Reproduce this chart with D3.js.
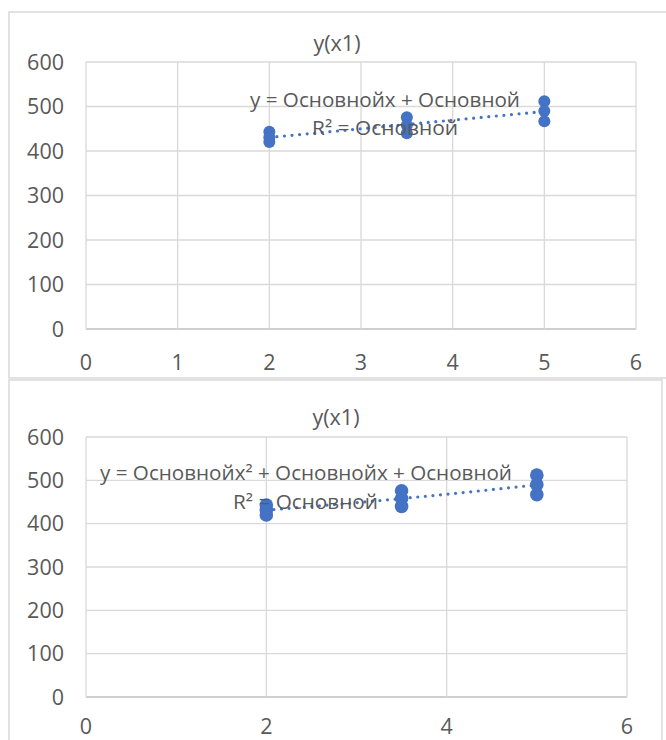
<!DOCTYPE html>
<html lang="ru">
    <head>
        <meta charset="utf-8">
        <title>y(x1)</title>
        <script type="text/javascript" src="https://d3js.org/d3.v7.min.js"></script>
        <style type="text/css">
          body { margin: 0; background: #fff; }
          text { font-family: "Open Sans", "Liberation Sans", sans-serif; fill: #595959; }
        </style>
    </head>
    <body>
        <svg width="666" height="740"></svg>
        <script type="text/javascript">

            const svg = d3.select("svg");
            const blue = "#4472C4";
            const grid = "#d9d9d9";

            // data
            const x1 = [2, 2, 2, 3.5, 3.5, 3.5, 5, 5, 5];
            const yVals = [443, 431, 420, 476, 458, 440, 512, 490, 467];
            const yTicks = [0, 100, 200, 300, 400, 500, 600];
            const xTicks1 = [0, 1, 2, 3, 4, 5, 6];
            const xTicks2 = [0, 2, 4, 6];
            const chartTitle = "y(x1)";
            const eqLinear = ["y = Основнойx + Основной", "R² = Основной"];
            const eqPoly = ["y = Основнойx² + Основнойx + Основной", "R² = Основной"];

            const points = x1.map((x, i) => ({x: x, y: yVals[i]}));

            // least squares fit, degree 1 or 2
            function fit(deg) {
              const n = deg + 1;
              const A = d3.range(n).map(() => d3.range(n + 1).fill(0));
              points.forEach(p => {
                for (let r = 0; r < n; r++) {
                  for (let c = 0; c < n; c++) A[r][c] += Math.pow(p.x, r + c);
                  A[r][n] += p.y * Math.pow(p.x, r);
                }
              });
              for (let i = 0; i < n; i++) {
                for (let k = i + 1; k < n; k++) {
                  const f = A[k][i] / A[i][i];
                  for (let c = i; c <= n; c++) A[k][c] -= f * A[i][c];
                }
              }
              const coef = new Array(n).fill(0);
              for (let i = n - 1; i >= 0; i--) {
                let s = A[i][n];
                for (let c = i + 1; c < n; c++) s -= A[i][c] * coef[c];
                coef[i] = s / A[i][i];
              }
              return x => coef.reduce((s, a, i) => s + a * Math.pow(x, i), 0);
            }

            function drawChart(cfg) {
              const g = svg.append("g");

              // chart frame
              g.append("rect")
               .attr("x", cfg.frame[0]).attr("y", cfg.frame[1])
               .attr("width", cfg.frame[2]).attr("height", cfg.frame[3])
               .style("fill", "none").style("stroke", grid).style("stroke-width", 1.5);

              const x = d3.scaleLinear().domain([0, 6]).range([cfg.left, cfg.right]);
              const y = d3.scaleLinear().domain([0, 600]).range([cfg.bottom, cfg.top]);

              // gridlines
              g.selectAll(".hg").data(yTicks).join("line")
               .attr("x1", cfg.left).attr("x2", cfg.right)
               .attr("y1", d => y(d)).attr("y2", d => y(d))
               .style("stroke", d => d === 0 ? "#bfbfbf" : grid).style("stroke-width", 1.3);
              g.selectAll(".vg").data(cfg.xTicks).join("line")
               .attr("x1", d => x(d)).attr("x2", d => x(d))
               .attr("y1", cfg.top).attr("y2", cfg.bottom)
               .style("stroke", grid).style("stroke-width", 1.3);

              // tick labels
              g.selectAll(".yl").data(yTicks).join("text")
               .attr("x", cfg.left - 22).attr("y", d => y(d))
               .attr("dy", "0.35em").attr("text-anchor", "end")
               .style("font-size", "21.5px")
               .text(d => d);
              g.selectAll(".xl").data(cfg.xTicks).join("text")
               .attr("x", d => x(d)).attr("y", cfg.bottom + cfg.xLabOff)
               .attr("dy", "0.35em").attr("text-anchor", "middle")
               .style("font-size", "21.5px")
               .text(d => d);

              // title
              g.append("text")
               .attr("x", cfg.titleX).attr("y", cfg.titleY)
               .attr("text-anchor", "middle")
               .style("font-size", "21.5px")
               .text(chartTitle);

              // trendline
              const f = fit(cfg.degree);
              const xs = d3.range(2, 5.0001, 0.05);
              g.append("path")
               .datum(xs)
               .attr("d", d3.line().x(d => x(d)).y(d => y(f(d))))
               .style("fill", "none").style("stroke", blue)
               .style("stroke-width", 3.2).style("stroke-linecap", "round")
               .style("stroke-dasharray", "0 7.6");

              // points
              g.selectAll("circle").data(points).join("circle")
               .attr("cx", d => x(d.x)).attr("cy", d => y(d.y))
               .attr("r", cfg.r)
               .style("fill", blue);

              // equation labels
              cfg.eq.forEach((t, i) => {
                const e = cfg.eqPos[i];
                g.append("text")
                 .attr("x", e[0]).attr("y", e[1])
                 .attr("textLength", e[2]).attr("lengthAdjust", "spacingAndGlyphs")
                 .style("font-size", "19.5px")
                 .text(t);
              });
            }

            drawChart({
              frame: [9, 12, 680, 366],
              left: 86, right: 636, top: 62, bottom: 329,
              xTicks: xTicks1, degree: 1, r: 6, xLabOff: 33,
              titleX: 337, titleY: 51,
              eq: eqLinear,
              eqPos: [[250, 107, 270], [312, 135, 146]]
            });

            drawChart({
              frame: [9, 380, 653, 380],
              left: 86, right: 627, top: 437, bottom: 697,
              xTicks: xTicks2, degree: 2, r: 6.8, xLabOff: 29,
              titleX: 336, titleY: 425,
              eq: eqPoly,
              eqPos: [[100, 480, 412], [233, 509, 145]]
            });

        </script>
    </body>
</html>
